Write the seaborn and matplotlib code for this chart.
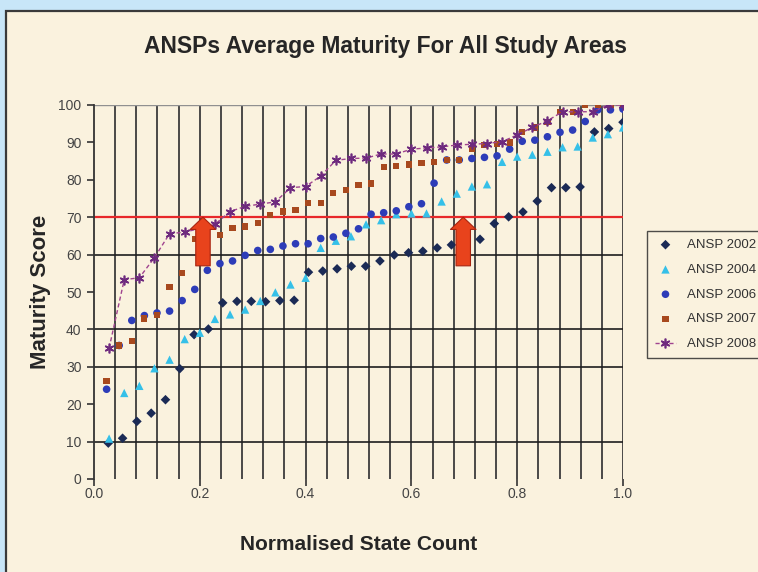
import numpy as np
import pandas as pd
import matplotlib
matplotlib.use("Agg")
import matplotlib.pyplot as plt
import seaborn as sns
from matplotlib.patches import Rectangle, FancyArrowPatch

# scores per ANSP, sorted ascending; x is rank / number of states
ansp_2002 = [9.6, 10.9, 15.4, 17.6, 21.2, 29.5, 38.6, 40.1, 47.1, 47.5,
             47.5, 47.4, 47.7, 47.8, 55.3, 55.6, 56.2, 56.9, 56.9, 58.3,
             59.9, 60.5, 60.9, 61.8, 62.6, 63.4, 64.1, 68.3, 70.1, 71.4,
             74.3, 77.9, 77.9, 78.1, 92.8, 93.7, 95.4]
ansp_2004 = [10.8, 23.0, 24.9, 29.6, 31.9, 37.4, 39.1, 42.8, 44.0, 45.3,
             47.6, 49.9, 52.0, 53.8, 61.8, 63.7, 64.9, 68.1, 69.2, 70.8,
             71.0, 71.0, 74.2, 76.3, 78.2, 78.8, 84.8, 86.2, 86.7, 87.5,
             88.7, 88.9, 91.3, 92.2, 94.0]
ansp_2006 = [24.0, 35.7, 42.4, 43.7, 44.4, 44.9, 47.7, 50.7, 55.8, 57.6,
             58.3, 59.8, 61.1, 61.4, 62.3, 62.9, 62.9, 64.3, 64.7, 65.7,
             66.9, 70.8, 71.2, 71.7, 72.8, 73.6, 79.1, 85.3, 85.3, 85.7,
             86.0, 86.4, 88.2, 90.3, 90.6, 91.5, 92.7, 93.3, 95.6, 98.7,
             98.7, 98.9]
ansp_2007 = [26.3, 35.7, 36.8, 42.9, 43.8, 51.3, 55.1, 64.1, 64.6, 65.2,
             67.1, 67.5, 68.4, 70.6, 71.5, 71.9, 73.7, 73.9, 76.4, 77.3,
             78.6, 79.0, 83.5, 83.7, 84.1, 84.5, 84.8, 85.3, 85.3, 88.2,
             89.4, 89.5, 90.0, 92.8, 94.0, 95.4, 98.2, 98.2, 100.0, 100.0,
             100.0, 100.0]
ansp_2008 = [35.0, 53.3, 53.8, 59.2, 65.6, 66.0, 67.0, 68.1, 71.5, 72.9,
             73.5, 74.1, 77.9, 78.2, 81.0, 85.2, 85.7, 85.8, 86.9, 86.9,
             88.2, 88.5, 88.8, 89.3, 89.5, 89.7, 90.2, 92.0, 94.0, 95.8,
             98.2, 98.2, 98.2, 100.0, 100.0]

series_labels = ["ANSP 2002", "ANSP 2004", "ANSP 2006", "ANSP 2007", "ANSP 2008"]
target_score = 70
arrow_x = [0.206, 0.698]
arrow_from, arrow_to = 57, 70
x_ticks = [0.0, 0.2, 0.4, 0.6, 0.8, 1.0]
y_ticks = list(range(0, 101, 10))
grid_y = [10, 30, 40, 60]

def to_frame(scores, label):
    n = len(scores)
    return pd.DataFrame({"x": np.arange(1, n + 1) / n, "y": scores, "series": label})

frames = [to_frame(s, l) for s, l in
          zip([ansp_2002, ansp_2004, ansp_2006, ansp_2007, ansp_2008], series_labels)]

sns.set_style("white")
plt.rcParams["font.family"] = ["Liberation Sans", "DejaVu Sans"]

bg = "#FAF2DE"
fig = plt.figure(figsize=(7.58, 5.72), dpi=100)
fig.patch.set_facecolor("#C8E6F8")
fig.add_artist(Rectangle((6 / 758, -0.01), 1.0, 1 - 11 / 572 + 0.01, transform=fig.transFigure,
                         facecolor=bg, edgecolor="#3a3a3a", lw=1.6, zorder=0))
ax = fig.add_axes([94 / 758, 1 - 479 / 572, 529 / 758, 374 / 572])
ax.set_facecolor(bg)

# grid
for gx in np.arange(0.04, 1.001, 0.04):
    ax.axvline(gx, color="#3c3c3c", lw=1.3, zorder=1)
for gy in grid_y:
    ax.axhline(gy, color="#1e1e1e", lw=1.2, zorder=1)
ax.axhline(100, color="#909090", lw=1.0, zorder=1)
ax.axhline(target_score, color="#E8282A", lw=1.6, zorder=2)

styles = [
    dict(marker="D", color="#1B2A55", s=24),
    dict(marker="^", color="#35C0E8", s=36),
    dict(marker="o", color="#2D3CB8", s=30),
    dict(marker="s", color="#A8491E", s=20),
]
for df, st in zip(frames[:4], styles):
    sns.scatterplot(data=df, x="x", y="y", ax=ax, label=df["series"].iloc[0],
                    marker=st["marker"], color=st["color"], s=st["s"],
                    edgecolor="none", zorder=4)

sns.lineplot(data=frames[4], x="x", y="y", ax=ax, label=series_labels[4],
             color="#A0448F", lw=1.0, linestyle=(0, (3, 2)), marker=(6, 2, 0),
             markersize=7, markeredgecolor="#6E2A7E", markeredgewidth=1.2, zorder=5)

for ax_x in arrow_x:
    ax.add_patch(FancyArrowPatch((ax_x, arrow_from), (ax_x, arrow_to),
                                 arrowstyle="simple,head_length=0.55,head_width=1.15,tail_width=0.65",
                                 mutation_scale=16, shrinkA=0, shrinkB=0,
                                 facecolor="#E8431C", edgecolor="#A82410", lw=0.8, zorder=6))

ax.set_xlim(0, 1.0)
ax.set_ylim(0, 100)
ax.set_xticks(x_ticks)
ax.set_xticklabels([f"{t:.1f}" for t in x_ticks])
ax.set_yticks(y_ticks)
ax.tick_params(axis="both", colors="#333333", labelcolor="#444444", labelsize=10,
               direction="out", length=5, width=1.2, left=True, bottom=True)
ax.tick_params(axis="x", pad=1)
ax.tick_params(axis="y", pad=4)
for side in ["top", "right", "bottom"]:
    ax.spines[side].set_visible(False)
ax.spines["left"].set_color("#333333")
ax.spines["left"].set_linewidth(1.3)

ax.set_xlabel("Normalised State Count", fontsize=15, fontweight="bold", labelpad=24)
ax.set_ylabel("Maturity Score", fontsize=16, fontweight="bold", labelpad=5)
fig.text(385 / 758, 1 - 46 / 572, "ANSPs Average Maturity For All Study Areas",
         ha="center", va="center", fontsize=16.5, fontweight="bold")

leg = ax.legend(loc="upper left", bbox_to_anchor=(647 / 758, 1 - 231 / 572),
                bbox_transform=fig.transFigure, frameon=True, fancybox=False,
                fontsize=9.5, labelspacing=0.95, handlelength=1.6, handletextpad=0.8,
                borderpad=0.6, borderaxespad=0)
leg.get_frame().set_edgecolor("#222222")
leg.get_frame().set_facecolor(bg)
leg.get_frame().set_linewidth(1.0)
for t in leg.get_texts():
    t.set_color("#333333")

fig.savefig("out.png", dpi=100, facecolor=fig.get_facecolor())
